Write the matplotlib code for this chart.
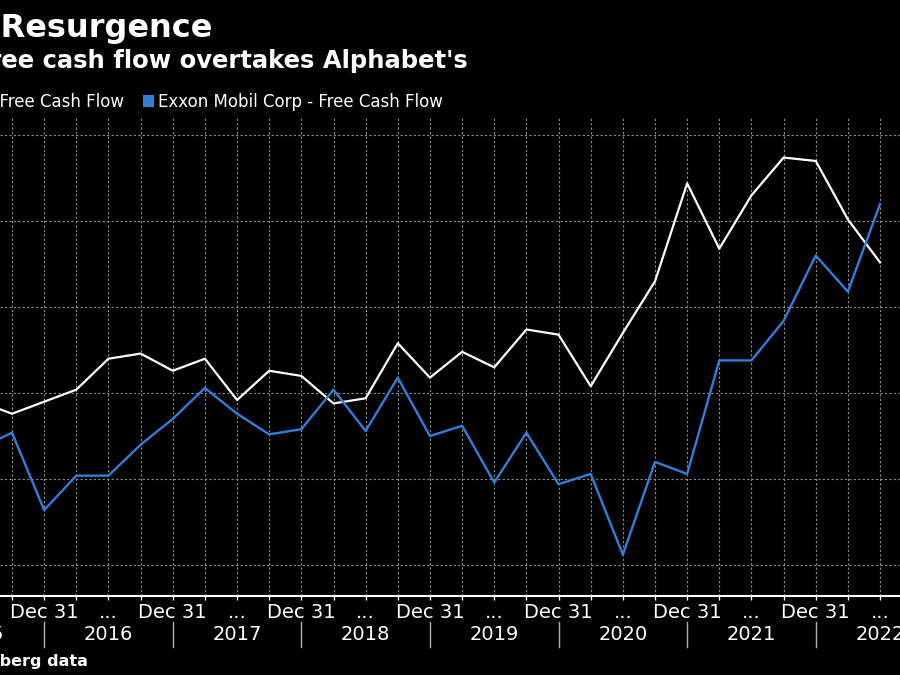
import numpy as np
import matplotlib.pyplot as plt
from matplotlib.patches import Rectangle
from matplotlib.transforms import blended_transform_factory

# quarterly free cash flow, $ billions
quarters = ["2015-06-30", "2015-09-30", "2015-12-31",
            "2016-03-31", "2016-06-30", "2016-09-30", "2016-12-31",
            "2017-03-31", "2017-06-30", "2017-09-30", "2017-12-31",
            "2018-03-31", "2018-06-30", "2018-09-30", "2018-12-31",
            "2019-03-31", "2019-06-30", "2019-09-30", "2019-12-31",
            "2020-03-31", "2020-06-30", "2020-09-30", "2020-12-31",
            "2021-03-31", "2021-06-30", "2021-09-30", "2021-12-31",
            "2022-03-31", "2022-06-30"]
alphabet_fcf = [4.5, 3.8, 4.5, 5.2, 7.0, 7.3, 6.3, 7.0, 4.6, 6.3, 6.0, 4.4, 4.7, 7.9, 5.9,
                7.4, 6.5, 8.7, 8.4, 5.4, 8.5, 11.5, 17.2, 13.4, 16.5, 18.7, 18.5, 15.1, 12.6]
exxon_fcf = [1.8, 2.7, -1.8, 0.2, 0.2, 2.0, 3.5, 5.3, 3.8, 2.6, 2.9, 5.2, 2.8, 5.9, 2.5,
             3.1, -0.2, 2.7, -0.3, 0.3, -4.4, 1.0, 0.3, 6.9, 6.9, 9.2, 13.0, 10.9, 16.0]
years = [2015, 2016, 2017, 2018, 2019, 2020, 2021, 2022]
y_grid = [-5, 0, 5, 10, 15, 20]

W, H = 900, 675
def px(x):
    return x / W
def py(y):
    return 1 - y / H

blue = '#2f7fdc'

fig = plt.figure(figsize=(9, 6.75), dpi=100, facecolor='black')
ax = fig.add_axes([0, py(596), 1, (596 - 118) / H], facecolor='black')

x = np.arange(len(quarters)) - 1   # Sep 30 2015 -> 0
ax.plot(x, alphabet_fcf, color='white', lw=1.6, zorder=3)
ax.plot(x, exxon_fcf, color=blue, lw=1.7, zorder=4)

# x ticks: every quarter, "Dec 31" at year end, "..." mid-year
labels = []
for q in quarters:
    if q.endswith("12-31"):
        labels.append("Dec 31")
    elif q.endswith("06-30"):
        labels.append("...")
    else:
        labels.append("")
ax.set_xticks(x)
ax.set_xticklabels(labels, fontsize=14, color='white')
ax.set_yticks(y_grid)
ax.tick_params(axis='x', colors='white', length=3, width=1, pad=2)
ax.tick_params(axis='y', length=0, labelleft=False, labelright=False)

# limits after the ticks, so set_xticks does not widen them
ax.set_xlim(-12 / 32.15, (W - 12) / 32.15)
ax.set_ylim(-6.8, 21.0)

ax.grid(True, color='#8c8c8c', linestyle=(0, (2, 2)), linewidth=0.8)
for s in ['top', 'left', 'right']:
    ax.spines[s].set_visible(False)
ax.spines['bottom'].set_color('white')
ax.spines['bottom'].set_linewidth(1.5)

# year row with separators
tr = blended_transform_factory(ax.transData, fig.transFigure)
for i, yr in enumerate(years):
    start = 4 * i - 3   # Dec 31 of previous year
    ax.text(start + 2, py(635), str(yr), transform=tr, ha='center', va='center',
            fontsize=14, color='white')
    ax.plot([start, start], [py(622), py(647)], transform=tr, color='#b0b0b0',
            lw=1, clip_on=False)
ax.set_xlim(-12 / 32.15, (W - 12) / 32.15)

# titles (left part runs off the canvas like the reference crop)
fig.text(px(212), py(37), "Exxon's Resurgence", ha='right', va='baseline',
         fontsize=23, weight='bold', color='white')
fig.text(px(468), py(68), "Exxon's free cash flow overtakes Alphabet's", ha='right',
         va='baseline', fontsize=17.5, weight='bold', color='white')

# legend
fig.text(px(124), py(107), "Alphabet Inc - Free Cash Flow", ha='right', va='baseline',
         fontsize=12, color='white')
fig.patches.append(Rectangle((px(143), py(107)), px(11), 12 / H, transform=fig.transFigure,
                             facecolor=blue, edgecolor='none'))
fig.text(px(158), py(107), "Exxon Mobil Corp - Free Cash Flow", ha='left', va='baseline',
         fontsize=12, color='white')

# source
fig.text(px(88), py(666), "Source: Bloomberg data", ha='right', va='baseline',
         fontsize=11.5, weight='bold', color='white')
fig.text(px(898), py(663), "Bloomberg", ha='left', va='baseline',
         fontsize=12, weight='bold', color='white')

fig.savefig('out.png', dpi=100, facecolor='black')
